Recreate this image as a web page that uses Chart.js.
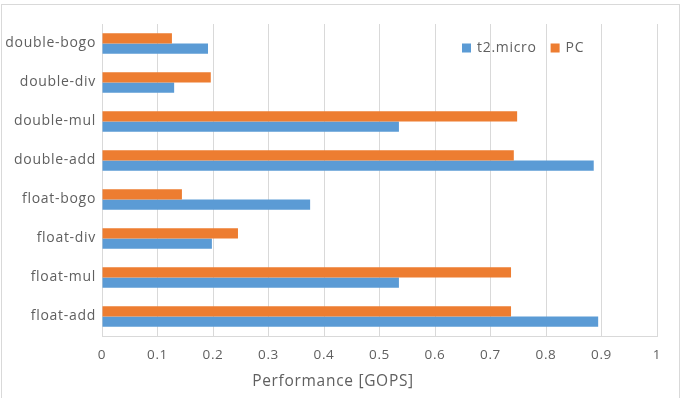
<!DOCTYPE html>
<html>
<head>
<meta charset="utf-8">
<script src="https://cdn.jsdelivr.net/npm/chart.js@4.4.1/dist/chart.umd.min.js"></script>
<style>
  html, body { margin: 0; padding: 0; background: #fff; }
  #wrap { width: 686px; height: 398px; }
</style>
</head>
<body>
<div id="wrap"><canvas id="myChart" width="686" height="398"></canvas></div>
<script>
const labels = ['double-bogo', 'double-div', 'double-mul', 'double-add', 'float-bogo', 'float-div', 'float-mul', 'float-add'];
const pcValues = [0.126, 0.196, 0.748, 0.742, 0.144, 0.245, 0.737, 0.737];
const t2Values = [0.191, 0.130, 0.535, 0.886, 0.375, 0.198, 0.535, 0.894];
const axisTitle = 'Performance [GOPS]';

const textColor = '#5f5f5f';
const gridColor = '#d9d9d9';

// letter spacing like the office chart
const spacing = {
    id: 'spacing',
    beforeUpdate(chart) { chart.ctx.letterSpacing = '0.7px'; },
    beforeDraw(chart) {
        const c = chart.ctx;
        c.letterSpacing = '0.7px';
        // outer frame
        c.save();
        c.strokeStyle = gridColor;
        c.lineWidth = 1;
        c.strokeRect(1.5, 4.5, 678, 400);
        c.restore();
    }
};

// legend inside the plot + axis title
const extras = {
    id: 'extras',
    afterDraw(chart) {
        const c = chart.ctx;
        c.save();
        c.font = '14px "Open Sans"';
        c.textBaseline = 'middle';
        c.fillStyle = textColor;
        let x = 462;
        const y = 48;
        const sets = chart.data.datasets.slice().reverse();
        sets.forEach(ds => {
            c.fillStyle = ds.backgroundColor;
            c.fillRect(x, y - 4.5, 9, 9);
            c.fillStyle = textColor;
            c.fillText(ds.label, x + 15, y);
            x += 15 + c.measureText(ds.label).width + 14;
        });
        c.font = '15.5px "Open Sans"';
        c.textAlign = 'center';
        c.fillText(axisTitle, 333, 382);
        c.restore();
    }
};

const ctx = document.getElementById('myChart').getContext('2d');
const myChart = new Chart(ctx, {
    type: 'bar',
    data: {
        labels: labels,
        datasets: [{
            label: 'PC',
            data: pcValues,
            backgroundColor: '#ed7d31'
        }, {
            label: 't2.micro',
            data: t2Values,
            backgroundColor: '#5b9bd5'
        }]
    },
    options: {
        indexAxis: 'y',
        responsive: false,
        animation: false,
        categoryPercentage: 0.52,
        barPercentage: 1,
        layout: {
            padding: { top: 24, right: 29, left: 0, bottom: 0 }
        },
        plugins: {
            legend: { display: false },
            tooltip: { enabled: false }
        },
        scales: {
            x: {
                min: 0,
                max: 1,
                ticks: {
                    stepSize: 0.1,
                    color: textColor,
                    padding: 11,
                    font: { family: 'Open Sans', size: 13.5 },
                    callback: v => String(+v.toFixed(1))
                },
                grid: { color: gridColor, drawTicks: false },
                border: { color: gridColor },
                afterFit(scale) { scale.height = 62; }
            },
            y: {
                ticks: {
                    color: textColor,
                    padding: 6,
                    font: { family: 'Open Sans', size: 14 }
                },
                grid: { display: false, drawTicks: false },
                border: { color: gridColor },
                afterFit(scale) { scale.width = 102; }
            }
        }
    },
    plugins: [spacing, extras]
});
</script>
</body>
</html>
